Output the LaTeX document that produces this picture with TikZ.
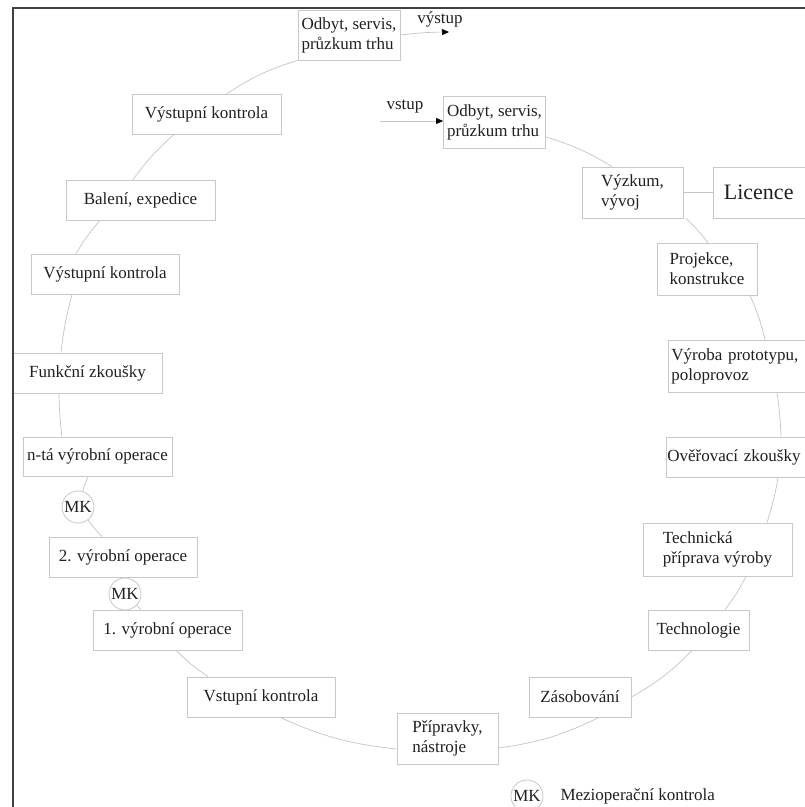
\documentclass[tikz,border=0pt]{standalone}
\usepackage{fontspec}
\setmainfont{Liberation Serif}
\usetikzlibrary{arrows.meta}
\definecolor{boxline}{HTML}{C8C8C8}
\definecolor{arcline}{HTML}{C4C4C4}
\definecolor{ink}{HTML}{202020}
\definecolor{frameline}{HTML}{404040}
\begin{document}
\begin{tikzpicture}[x=1pt,y=-1pt,
  every node/.style={text=ink,font=\fontsize{17}{20}\selectfont},
  box/.style={draw=boxline,line width=0.8pt,fill=white,rectangle,inner sep=2pt},
  wide/.style={box,minimum width=149pt,minimum height=40pt},
  twoline/.style={box,align=left,minimum width=102pt,minimum height=52pt},
  mk/.style={draw=boxline,line width=0.8pt,fill=white,circle,inner sep=0pt,minimum size=32pt},
  arc/.style={draw=arcline,line width=0.7pt},
  flow/.style={draw=arcline,line width=0.7pt,-{Triangle[length=7pt,width=6pt,color=black]}}
]
\useasboundingbox (0,0) rectangle (805,807);
\clip (0,0) rectangle (805,807);

% right half of the cycle
\node[twoline] (odbytB) at (494.5,122) {Odbyt, servis,\\průzkum trhu};
\node[twoline,minimum width=101pt,minimum height=51pt] (vyzkum) at (632.5,192.5) {Výzkum,\\vývoj};
\node[box,minimum height=51pt,text width=80pt,inner xsep=10.5pt,align=left,font=\fontsize{22}{24}\selectfont,anchor=west] (licence) at (713,192.5) {Licence};
\node[twoline,minimum width=100pt] (projekce) at (707,269) {Projekce,\\konstrukce};
\node[box,minimum height=52pt,text width=140pt,inner xsep=3pt,align=left,anchor=west] (vyroba) at (668,366) {Výroba prototypu,\\poloprovoz};
\node[box,minimum height=40pt,text width=140pt,inner xsep=1pt,align=left,anchor=west] (overeni) at (666,457) {Ověřovací zkoušky};
\node[twoline,minimum width=149pt,minimum height=53pt] (technicka) at (717.5,549.5) {Technická\\příprava výroby};
\node[wide,minimum width=101pt] (technologie) at (698.5,630) {Technologie};
\node[wide,minimum width=102pt] (zasobovani) at (580,697) {Zásobování};
\node[twoline,minimum width=101pt,minimum height=51pt] (pripravky) at (447.5,738.5) {Přípravky,\\nástroje};

% left half of the cycle
\node[wide,minimum width=148pt] (vstupni) at (261,697) {Vstupní kontrola};
\node[wide] (opA) at (167.5,630) {1. výrobní operace};
\node[mk] (mkA) at (125,594) {MK};
\node[wide,minimum width=148pt] (opB) at (123,557) {2. výrobní operace};
\node[mk] (mkB) at (78,507) {MK};
\node[wide,minimum height=39pt] (opN) at (97.5,456.5) {n-tá výrobní operace};
\node[wide] (funkcni) at (87.5,373) {Funkční zkoušky};
\node[wide,minimum width=148pt] (vystupniB) at (105,274) {Výstupní kontrola};
\node[wide] (baleni) at (140.5,200) {Balení, expedice};
\node[wide] (vystupniA) at (206.5,114) {Výstupní kontrola};
\node[twoline,minimum height=50pt] (odbytA) at (349,35) {Odbyt, servis,\\průzkum trhu};

% entry and exit of the cycle
\coordinate (vin) at (380,121);
\coordinate (vout) at (449,32);
\node (vstupL) at (405,107) {vstup};
\node (vystupL) at (440,19) {výstup};
\draw[flow] (vin) -- (odbytB.west |- vin);
\draw[flow] (odbytA.east) to[bend left=3] (vout);

% the cycle itself
\draw[arc] (odbytB.east |- 0,137) to[bend left=7] (vyzkum.north -| 612,0);
\draw[arc] (vyzkum.south -| 686,0) to[bend left=4] (projekce.north -| 708,0);
\draw[arc] (vyzkum.east) -- (licence.west);
\draw[arc] (projekce.south -| 750,0) to[bend left=5] (vyroba.north -| 765,0);
\draw[arc] (vyroba.south -| 777,0) to[bend left=3] (overeni.north -| 781,0);
\draw[arc] (overeni.south -| 778,0) to[bend left=4] (technicka.north -| 767,0);
\draw[arc] (technicka.south -| 746,0) to[bend left=5] (technologie.north -| 725,0);
\draw[arc] (technologie.south -| 692,0) to[bend left=8] (zasobovani.east |- 0,697);
\draw[arc] (zasobovani.south -| 599,0) to[bend left=9] (pripravky.east |- 0,748);
\draw[arc] (pripravky.west |- 0,749) to[bend left=9] (vstupni.south -| 280,0);
\draw[arc] (vstupni.north -| 208,0) to[bend left=5] (opA.south -| 176,0);
\draw[arc] (opA) to[bend left=3] (mkA);
\draw[arc] (mkA) to[bend left=3] (opB);
\draw[arc] (opB) to[bend left=4] (mkB);
\draw[arc] (mkB) to[bend left=4] (opN);
\draw[arc] (opN.north -| 62,0) to[bend left=3] (funkcni.south -| 59,0);
\draw[arc] (funkcni.north -| 61,0) to[bend left=4] (vystupniB.south -| 72,0);
\draw[arc] (vystupniB.north -| 76,0) to[bend left=5] (baleni.south -| 100,0);
\draw[arc] (baleni.north -| 133,0) to[bend left=6] (vystupniA.south -| 174,0);
\draw[arc] (vystupniA.north -| 227,0) to[bend left=8] (odbytA.south west);

% legend
\node[mk] (mkL) at (527,796) {MK};
\node[anchor=west] (mkText) at (557,796) {Mezioperační kontrola};

% frame
\draw[frameline,line width=2pt] (13,807) -- (13,8) -- (805,8);
\end{tikzpicture}
\end{document}
